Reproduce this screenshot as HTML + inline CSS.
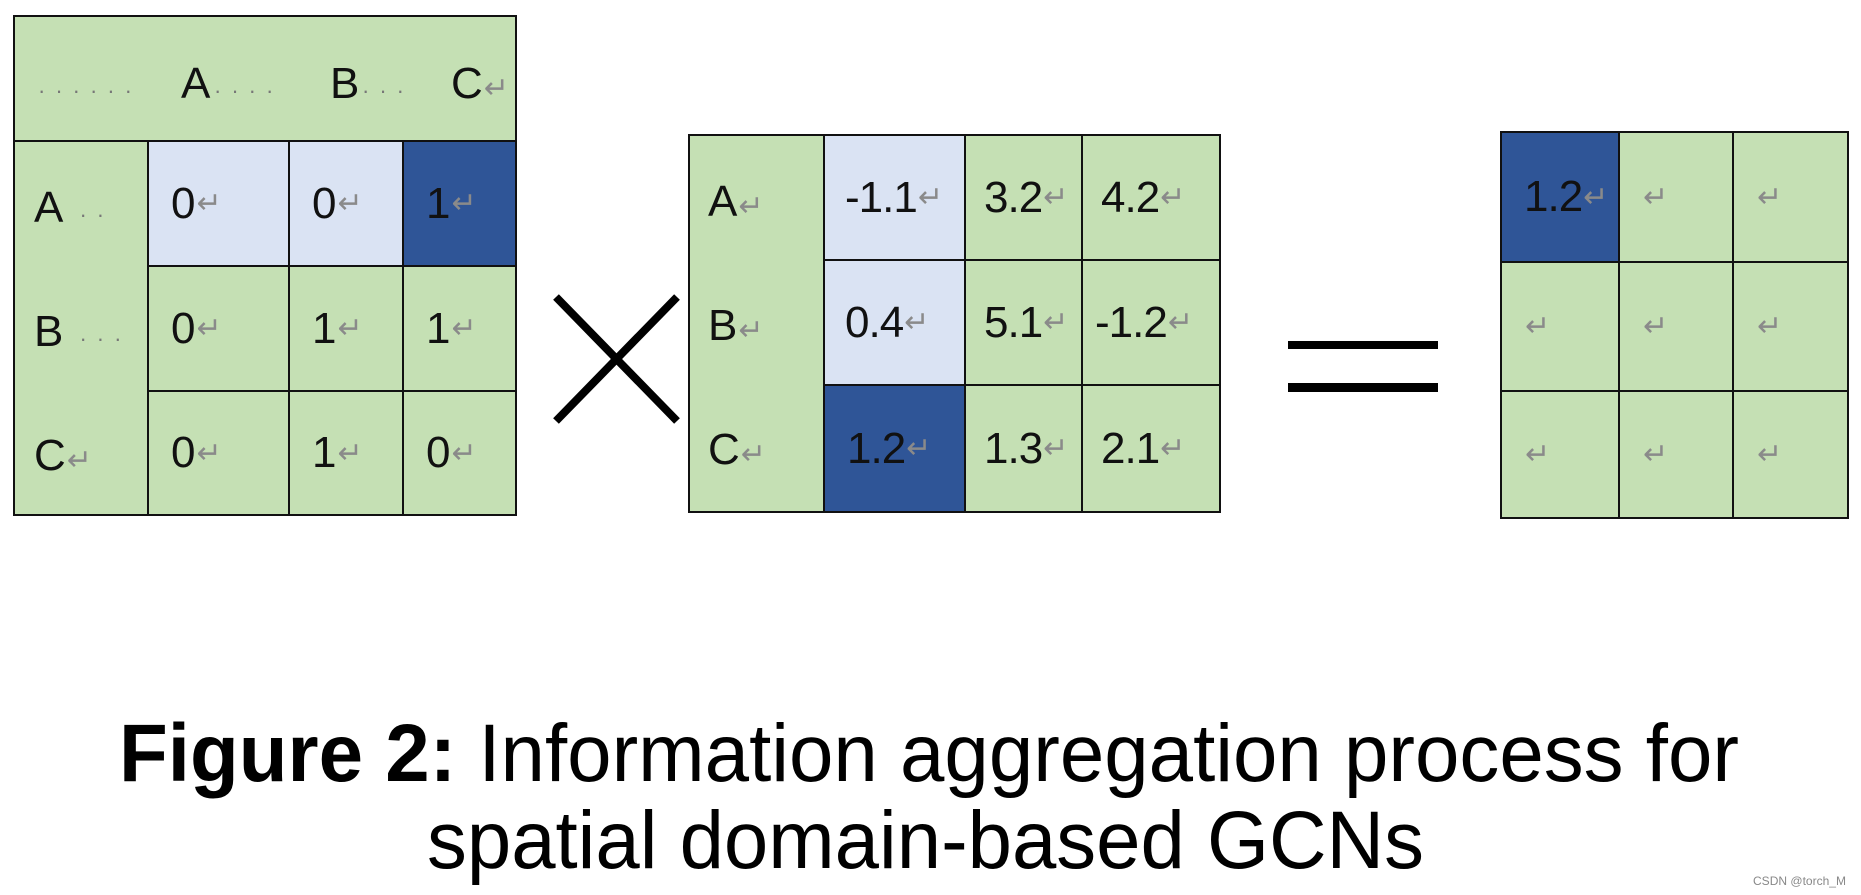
<!DOCTYPE html>
<html><head><meta charset="utf-8"><style>
html,body{margin:0;padding:0;background:#fff;}
body{width:1861px;height:895px;position:relative;overflow:hidden;font-family:"Liberation Sans",sans-serif;}
.c{position:absolute;box-sizing:border-box;border:2px solid #111;display:flex;align-items:center;font-size:44px;color:#111;}
.g{background:#c5e0b4}.l{background:#dae3f3}.d{background:#2f5597}
.r{color:#8a8a8a;font-size:30px;margin-left:1px}
.dt{color:#777;font-size:22px;letter-spacing:10px}
.t{position:absolute;font-size:44px;color:#111;line-height:1;}
</style></head><body>
<!-- matrix 1 -->
<div class="c g" style="left:13px;top:15px;width:504px;height:127px;"></div>
<div class="t" style="left:38px;top:62px"><span class="dt">······</span></div>
<div class="t" style="left:181px;top:62px">A</div>
<div class="t" style="left:214px;top:62px"><span class="dt">····</span></div>
<div class="t" style="left:330px;top:62px">B</div>
<div class="t" style="left:362px;top:62px"><span class="dt">···</span></div>
<div class="t" style="left:451px;top:62px">C<span class="r">↵</span></div>
<div class="c g" style="left:13px;top:140px;width:136px;height:376px;"></div>
<div class="t" style="left:34px;top:186px">A<span class="dt">&nbsp;··</span></div>
<div class="t" style="left:34px;top:310px">B<span class="dt">&nbsp;···</span></div>
<div class="t" style="left:34px;top:434px">C<span class="r">↵</span></div>

<div class="c l" style="left:147px;top:140px;width:143px;height:127px;padding-left:22px">0<span class="r">↵</span></div>
<div class="c l" style="left:288px;top:140px;width:116px;height:127px;padding-left:22px">0<span class="r">↵</span></div>
<div class="c d" style="left:402px;top:140px;width:115px;height:127px;padding-left:22px">1<span class="r">↵</span></div>
<div class="c g" style="left:147px;top:265px;width:143px;height:127px;padding-left:22px">0<span class="r">↵</span></div>
<div class="c g" style="left:288px;top:265px;width:116px;height:127px;padding-left:22px">1<span class="r">↵</span></div>
<div class="c g" style="left:402px;top:265px;width:115px;height:127px;padding-left:22px">1<span class="r">↵</span></div>
<div class="c g" style="left:147px;top:390px;width:143px;height:126px;padding-left:22px">0<span class="r">↵</span></div>
<div class="c g" style="left:288px;top:390px;width:116px;height:126px;padding-left:22px">1<span class="r">↵</span></div>
<div class="c g" style="left:402px;top:390px;width:115px;height:126px;padding-left:22px">0<span class="r">↵</span></div>

<svg style="position:absolute;left:0;top:0" width="1861" height="895">
<line x1="556" y1="297" x2="677" y2="421" stroke="#000" stroke-width="8"/>
<line x1="677" y1="297" x2="556" y2="421" stroke="#000" stroke-width="8"/>
<rect x="1288" y="341" width="150" height="8" fill="#000"/>
<rect x="1288" y="383" width="150" height="9" fill="#000"/>
</svg>

<!-- matrix 2 -->
<div class="c g" style="left:688px;top:134px;width:137px;height:379px"></div>
<div class="t" style="left:708px;top:180px">A<span class="r">↵</span></div>
<div class="t" style="left:708px;top:304px">B<span class="r">↵</span></div>
<div class="t" style="left:708px;top:428px">C<span class="r">↵</span></div>
<div class="c l" style="left:823px;top:134px;width:143px;height:127px;padding-left:20px;letter-spacing:-1px">-1.1<span class="r">↵</span></div>
<div class="c g" style="left:964px;top:134px;width:119px;height:127px;padding-left:18px;letter-spacing:-1px">3.2<span class="r">↵</span></div>
<div class="c g" style="left:1081px;top:134px;width:140px;height:127px;padding-left:18px;letter-spacing:-1px">4.2<span class="r">↵</span></div>
<div class="c l" style="left:823px;top:259px;width:143px;height:127px;padding-left:20px;letter-spacing:-1px">0.4<span class="r">↵</span></div>
<div class="c g" style="left:964px;top:259px;width:119px;height:127px;padding-left:18px;letter-spacing:-1px">5.1<span class="r">↵</span></div>
<div class="c g" style="left:1081px;top:259px;width:140px;height:127px;padding-left:12px;letter-spacing:-1px">-1.2<span class="r">↵</span></div>
<div class="c d" style="left:823px;top:384px;width:143px;height:129px;padding-left:22px;letter-spacing:-1px">1.2<span class="r">↵</span></div>
<div class="c g" style="left:964px;top:384px;width:119px;height:129px;padding-left:18px;letter-spacing:-1px">1.3<span class="r">↵</span></div>
<div class="c g" style="left:1081px;top:384px;width:140px;height:129px;padding-left:18px;letter-spacing:-1px">2.1<span class="r">↵</span></div>

<!-- matrix 3 -->
<div class="c d" style="left:1500px;top:131px;width:120px;height:132px;padding-left:22px;letter-spacing:-1px">1.2<span class="r">↵</span></div>
<div class="c g" style="left:1618px;top:131px;width:116px;height:132px;padding-left:22px"><span class="r">↵</span></div>
<div class="c g" style="left:1732px;top:131px;width:117px;height:132px;padding-left:22px"><span class="r">↵</span></div>
<div class="c g" style="left:1500px;top:261px;width:120px;height:131px;padding-left:22px"><span class="r">↵</span></div>
<div class="c g" style="left:1618px;top:261px;width:116px;height:131px;padding-left:22px"><span class="r">↵</span></div>
<div class="c g" style="left:1732px;top:261px;width:117px;height:131px;padding-left:22px"><span class="r">↵</span></div>
<div class="c g" style="left:1500px;top:390px;width:120px;height:129px;padding-left:22px"><span class="r">↵</span></div>
<div class="c g" style="left:1618px;top:390px;width:116px;height:129px;padding-left:22px"><span class="r">↵</span></div>
<div class="c g" style="left:1732px;top:390px;width:117px;height:129px;padding-left:22px"><span class="r">↵</span></div>

<svg style="position:absolute;left:0;top:0" width="1861" height="895">
<text x="119" y="781" font-family="Liberation Sans, sans-serif" font-size="82" textLength="1620" lengthAdjust="spacingAndGlyphs"><tspan font-weight="bold">Figure 2:</tspan> Information aggregation process for</text>
<text x="427" y="868" font-family="Liberation Sans, sans-serif" font-size="82" textLength="997" lengthAdjust="spacingAndGlyphs">spatial domain-based GCNs</text>
<text x="1753" y="885" font-family="Liberation Sans, sans-serif" font-size="12" fill="#888" textLength="93" lengthAdjust="spacingAndGlyphs">CSDN @torch_M</text>
</svg>
</body></html>
